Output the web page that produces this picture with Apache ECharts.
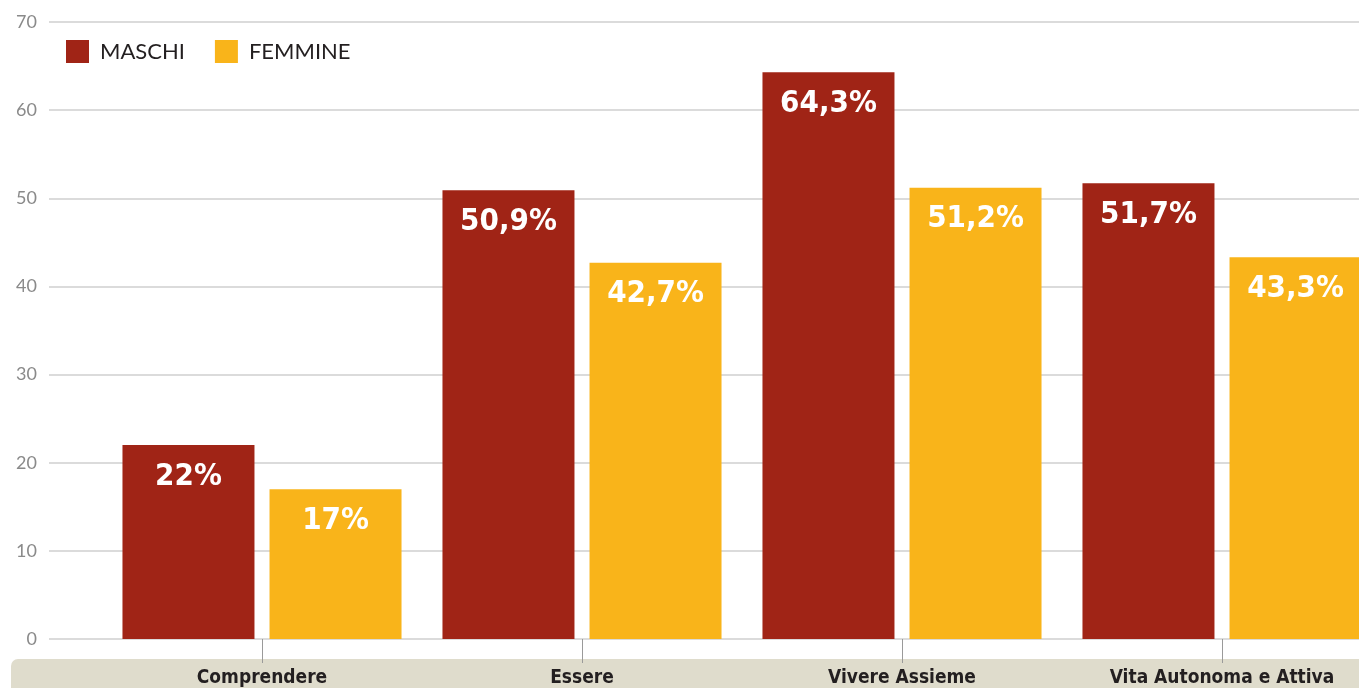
<!DOCTYPE html>
<html>
<head>
<meta charset="utf-8">
<script src="https://cdn.jsdelivr.net/npm/echarts@6/dist/echarts.min.js"></script>
<style>
  html, body { margin: 0; padding: 0; background: #ffffff; }
  #chart { width: 1359px; height: 688px; }
</style>
</head>
<body>
<div id="chart"></div>
<script>
// Categories and percentages by gender
const categories = ['Comprendere', 'Essere', 'Vivere Assieme', 'Vita Autonoma e Attiva'];
const maschi = [22, 50.9, 64.3, 51.7];
const femmine = [17, 42.7, 51.2, 43.3];
const yMin = 0, yMax = 70, yStep = 10;

const RED = '#a02416';
const GOLD = '#f9b41a';
const NARROW = '"DejaVu Sans Condensed", "Liberation Sans Narrow", sans-serif';

function pct(v) {
  return String(v).replace('.', ',') + '%';
}

const chart = echarts.init(document.getElementById('chart'), null, { renderer: 'canvas' });

const barLabel = {
  show: true,
  position: 'insideTop',
  distance: 16,
  color: '#ffffff',
  fontFamily: NARROW,
  fontWeight: 'bold',
  fontSize: 31,
  formatter: p => pct(p.value)
};

chart.setOption({
  animation: false,
  backgroundColor: '#ffffff',
  graphic: [{
    type: 'rect',
    z: -10,
    shape: { x: 11, y: 659, width: 1400, height: 40, r: [7, 0, 0, 0] },
    style: { fill: '#dfdccc' }
  }],
  legend: {
    left: 61,
    top: 35,
    icon: 'rect',
    itemWidth: 23,
    itemHeight: 23,
    itemGap: 30,
    data: ['MASCHI', 'FEMMINE'],
    textStyle: {
      color: '#231f20',
      fontFamily: 'Lato, "Open Sans", sans-serif',
      fontSize: 22,
      padding: [0, 0, 0, 6]
    }
  },
  grid: [
    { left: 49, right: 0, top: 22, bottom: 49, outerBoundsMode: 'none' },
    { left: 102, width: 1280, top: 22, bottom: 49, outerBoundsMode: 'none' }
  ],
  xAxis: [
    { gridIndex: 0, type: 'value', show: false, min: 0, max: 1 },
    {
      gridIndex: 1,
      type: 'category',
      data: categories,
      axisLine: { show: false },
      axisTick: { show: true, alignWithLabel: true, length: 24, lineStyle: { color: '#9a9a9a', width: 1 } },
      axisLabel: {
        interval: 0,
        margin: 30,
        color: '#231f20',
        fontFamily: NARROW,
        fontWeight: 'bold',
        fontSize: 19
      }
    }
  ],
  yAxis: [
    {
      gridIndex: 0,
      type: 'value',
      min: yMin,
      max: yMax,
      interval: yStep,
      axisLine: { show: false },
      axisTick: { show: false },
      axisLabel: {
        margin: 12,
        color: '#8a8a8a',
        fontFamily: 'Lato, "Open Sans", sans-serif',
        fontSize: 18
      },
      splitLine: { lineStyle: { color: '#cfcfcf', width: 1.5 } }
    },
    {
      gridIndex: 1,
      type: 'value',
      min: yMin,
      max: yMax,
      interval: yStep,
      show: false,
      splitLine: { show: false }
    }
  ],
  series: [
    {
      name: 'MASCHI',
      type: 'bar',
      xAxisIndex: 1,
      yAxisIndex: 1,
      data: maschi,
      barWidth: 132,
      barGap: '11.4%',
      itemStyle: { color: RED },
      label: barLabel
    },
    {
      name: 'FEMMINE',
      type: 'bar',
      xAxisIndex: 1,
      yAxisIndex: 1,
      data: femmine,
      barWidth: 132,
      barGap: '11.4%',
      itemStyle: { color: GOLD },
      label: barLabel
    }
  ]
});
</script>
</body>
</html>
